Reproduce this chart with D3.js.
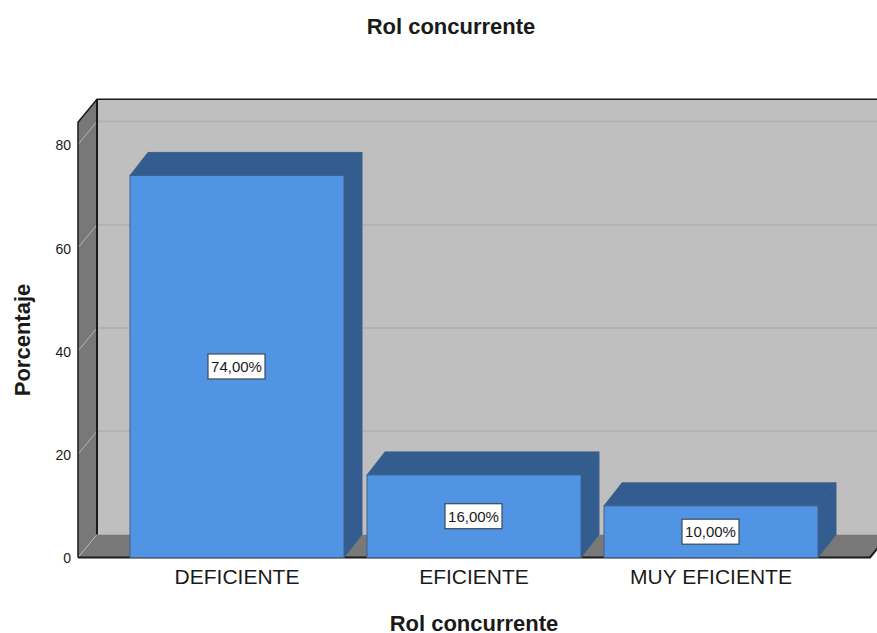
<!DOCTYPE html>
<html>
<head>
<meta charset="utf-8">
<script src="https://cdn.jsdelivr.net/npm/d3@7"></script>
<style>
  html, body { margin: 0; padding: 0; background: #fff; overflow: hidden; }
  text { font-family: "Liberation Sans", Arial, sans-serif; fill: #1a1a1a; }
</style>
</head>
<body>
<div id="chart"></div>
<script>
const categories = ["DEFICIENTE", "EFICIENTE", "MUY EFICIENTE"];
const values = [74, 16, 10];
const valueLabels = ["74,00%", "16,00%", "10,00%"];
const yTicks = [0, 20, 40, 60, 80];
const chartTitle = "Rol concurrente";
const xTitle = "Rol concurrente";
const yTitle = "Porcentaje";

const width = 877, height = 633;

// front plane of the 3D box, depth goes up and to the right
const leftX = 78, rightX = 870, bottomY = 557.5;
const depthX = 19, depthY = -23;
const barDepthX = 18;

const svg = d3.select("#chart").append("svg")
  .attr("width", width)
  .attr("height", height);

const x = d3.scaleBand()
  .domain(categories)
  .range([118.5, 829.5])
  .paddingInner(23 / 237)
  .paddingOuter(11.5 / 237);

const y = d3.scaleLinear()
  .domain([0, 84.3])
  .range([bottomY, bottomY - 84.3 * 5.163]);

const topY = y(84.3);
const poly = pts => pts.map(p => p.join(",")).join(" ");

// back wall
svg.append("rect")
  .attr("x", leftX + depthX)
  .attr("y", topY + depthY)
  .attr("width", width - leftX - depthX + 20)
  .attr("height", bottomY - topY)
  .attr("fill", "#bfbfbf");

// side wall
svg.append("polygon")
  .attr("points", poly([[leftX, topY], [leftX + depthX, topY + depthY], [leftX + depthX, bottomY + depthY], [leftX, bottomY]]))
  .attr("fill", "#787878");

// floor
svg.append("polygon")
  .attr("points", poly([[leftX, bottomY], [leftX + depthX, bottomY + depthY], [rightX + depthX, bottomY + depthY], [rightX, bottomY]]))
  .attr("fill", "#787878");

// gridlines, back wall and side wall
const grid = yTicks.slice(1);
svg.selectAll(".grid-back").data(grid).join("line")
  .attr("class", "grid-back")
  .attr("x1", leftX + depthX).attr("x2", width)
  .attr("y1", d => y(d) + depthY).attr("y2", d => y(d) + depthY)
  .attr("stroke", "#b2b2b2").attr("stroke-width", 2);

svg.selectAll(".grid-side").data(yTicks).join("line")
  .attr("class", "grid-side")
  .attr("x1", leftX).attr("x2", leftX + depthX)
  .attr("y1", d => y(d)).attr("y2", d => y(d) + depthY)
  .attr("stroke", "#b5b5b5").attr("stroke-width", 1);

// box outline
svg.append("polyline")
  .attr("points", poly([[leftX, bottomY], [leftX, topY], [leftX + depthX, topY + depthY], [width, topY + depthY]]))
  .attr("fill", "none").attr("stroke", "#1a1a1a").attr("stroke-width", 1.5);
svg.append("line")
  .attr("x1", leftX + depthX).attr("x2", leftX + depthX)
  .attr("y1", topY + depthY).attr("y2", bottomY + depthY)
  .attr("stroke", "#1a1a1a").attr("stroke-width", 2);
svg.append("polyline")
  .attr("points", poly([[leftX, bottomY], [rightX, bottomY], [rightX + depthX, bottomY + depthY]]))
  .attr("fill", "none").attr("stroke", "#1a1a1a").attr("stroke-width", 2);

// bars
const bars = svg.selectAll(".bar").data(categories).join("g").attr("class", "bar");
const edge = "#3f5f8c";

bars.append("polygon")
  .attr("points", (d, i) => {
    const x0 = x(d), x1 = x0 + x.bandwidth(), t = y(values[i]);
    return poly([[x0, t], [x0 + barDepthX, t + depthY], [x1 + barDepthX, t + depthY], [x1, t]]);
  })
  .attr("fill", "#335c8f").attr("stroke", edge);

bars.append("polygon")
  .attr("points", (d, i) => {
    const x1 = x(d) + x.bandwidth(), t = y(values[i]);
    return poly([[x1, t], [x1 + barDepthX, t + depthY], [x1 + barDepthX, bottomY + depthY], [x1, bottomY]]);
  })
  .attr("fill", "#335c8f").attr("stroke", edge);

bars.append("rect")
  .attr("x", d => x(d))
  .attr("y", (d, i) => y(values[i]))
  .attr("width", x.bandwidth())
  .attr("height", (d, i) => bottomY - y(values[i]))
  .attr("fill", "#5294e4").attr("stroke", edge);

// value labels
const labels = svg.selectAll(".value").data(categories).join("g")
  .attr("class", "value")
  .attr("transform", (d, i) => "translate(" + (x(d) + x.bandwidth() / 2 - 0.5) + "," + y(values[i] / 2) + ")");

labels.append("rect")
  .attr("x", -28.5).attr("y", -12.5)
  .attr("width", 57).attr("height", 25)
  .attr("fill", "#fff").attr("stroke", "#3a4a5c").attr("stroke-width", 1.2);

labels.append("text")
  .attr("text-anchor", "middle").attr("dy", "0.36em")
  .attr("font-size", 15)
  .text((d, i) => valueLabels[i]);

// axes
const yAxis = svg.append("g")
  .attr("transform", "translate(" + leftX + ",1)")
  .call(d3.axisLeft(y).tickValues(yTicks).tickSize(0).tickPadding(7));
yAxis.select(".domain").remove();
yAxis.selectAll("text").attr("font-size", 14);
yAxis.attr("font-family", null).attr("font-size", null);

const xAxis = svg.append("g")
  .attr("transform", "translate(0," + bottomY + ")")
  .call(d3.axisBottom(x).tickSize(0).tickPadding(12));
xAxis.select(".domain").remove();
xAxis.selectAll("text").attr("font-size", 21);
xAxis.attr("font-family", null).attr("font-size", null);

// titles
svg.append("text")
  .attr("x", 451).attr("y", 34)
  .attr("text-anchor", "middle")
  .attr("font-size", 22).attr("font-weight", "bold")
  .text(chartTitle);

svg.append("text")
  .attr("x", 474).attr("y", 631)
  .attr("text-anchor", "middle")
  .attr("font-size", 22).attr("font-weight", "bold")
  .text(xTitle);

svg.append("text")
  .attr("transform", "translate(30,340) rotate(-90)")
  .attr("text-anchor", "middle")
  .attr("font-size", 22).attr("font-weight", "bold")
  .text(yTitle);
</script>
</body>
</html>
